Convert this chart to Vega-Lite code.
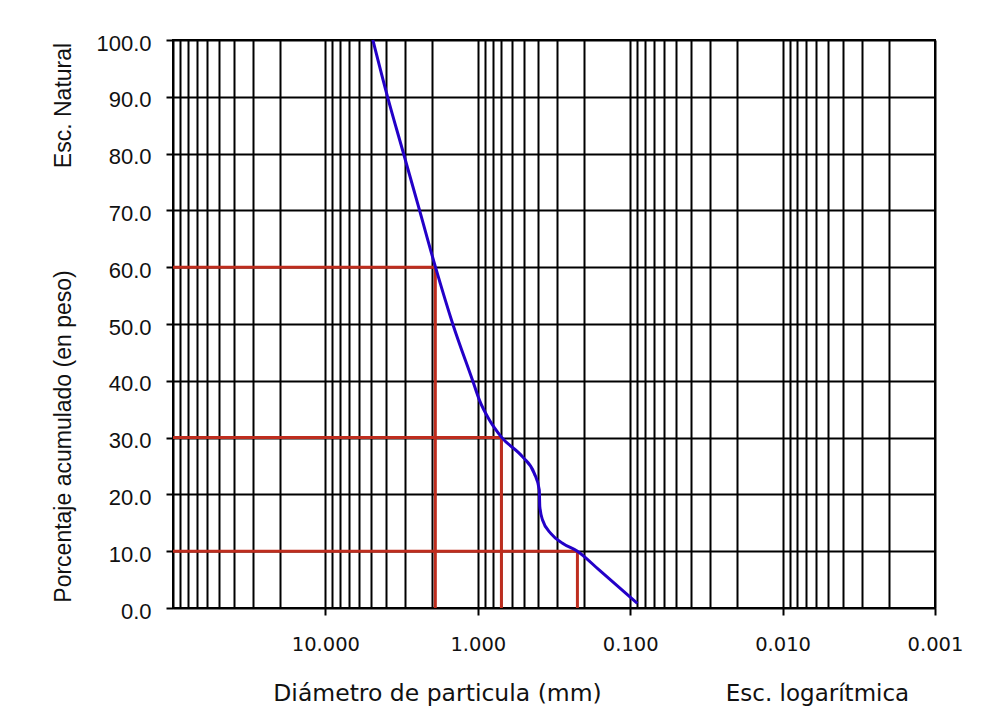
{
  "$schema": "https://vega.github.io/schema/vega-lite/v6.json",
  "width": 762,
  "height": 568,
  "autosize": "none",
  "padding": {"left": 173, "top": 40, "right": 60, "bottom": 109},
  "background": "white",
  "config": {"view": {"stroke": "#000", "strokeWidth": 2}},
  "datasets": {
    "curve": [
      {"D": 4.88, "P": 100}, {"D": 3.91, "P": 90}, {"D": 3.07, "P": 80}, {"D": 2.41, "P": 70},
      {"D": 1.895, "P": 60}, {"D": 1.46, "P": 50}, {"D": 1.08, "P": 40}, {"D": 0.976, "P": 36.6},
      {"D": 0.839, "P": 33.1}, {"D": 0.695, "P": 30}, {"D": 0.508, "P": 26.6}, {"D": 0.426, "P": 23.7},
      {"D": 0.395, "P": 20.8}, {"D": 0.392, "P": 17.9}, {"D": 0.376, "P": 15.5}, {"D": 0.331, "P": 13.1},
      {"D": 0.278, "P": 11.4}, {"D": 0.222, "P": 10}, {"D": 0.16, "P": 6.7}, {"D": 0.0897, "P": 0.8}
    ],
    "guides": [
      {"D": 1.9, "P": 60}, {"D": 0.70, "P": 30}, {"D": 0.222, "P": 10}
    ]
  },
  "layer": [
    {
      "data": {"name": "guides"},
      "layer": [
        {
          "mark": {"type": "rule", "color": "#be2d1e", "strokeWidth": 3},
          "encoding": {
            "x": {"field": "D", "type": "quantitative",
              "scale": {"type": "log", "domain": [0.001, 100], "reverse": true, "nice": false},
              "axis": {
                "values": [100, 90, 80, 70, 60, 50, 40, 30, 20, 10, 9, 8, 7, 6, 5, 4, 3, 2, 1, 0.9, 0.8, 0.7, 0.6, 0.5, 0.4, 0.3, 0.2, 0.1, 0.09, 0.08, 0.07, 0.06, 0.05, 0.04, 0.03, 0.02, 0.01, 0.009, 0.008, 0.007, 0.006, 0.005, 0.004, 0.003, 0.002, 0.001],
                "grid": true, "gridColor": "#000", "gridWidth": 2, "gridOpacity": 1,
                "domain": false,
                "tickColor": "#000", "tickWidth": 2, "tickSize": 7,
                "tickOpacity": {"condition": {"test": "datum.value==10||datum.value==1||datum.value==0.1||datum.value==0.01||datum.value==0.001", "value": 1}, "value": 0},
                "labelExpr": "(datum.value==10||datum.value==1||datum.value==0.1||datum.value==0.01||datum.value==0.001) ? format(datum.value, '.3f') : ''",
                "labelFont": "DejaVu Sans", "labelFontSize": 19.5, "labelColor": "#111",
                "labelPadding": 20, "labelOverlap": false, "labelFlush": false, "labelBound": false,
                "title": "Diámetro de particula (mm)", "titleFont": "DejaVu Sans", "titleFontSize": 23.5,
                "titleFontWeight": "normal", "titleColor": "#111",
                "titleX": 264, "titleY": 85, "titleAlign": "center", "titleBaseline": "middle"
              }
            },
            "x2": {"datum": 100},
            "y": {"field": "P", "type": "quantitative",
              "scale": {"domain": [0, 100], "nice": false},
              "axis": {
                "values": [0, 10, 20, 30, 40, 50, 60, 70, 80, 90, 100], "format": ".1f",
                "grid": true, "gridColor": "#000", "gridWidth": 2, "gridOpacity": 1,
                "domain": false, "tickColor": "#000", "tickWidth": 2, "tickSize": 7,
                "labelFont": "Liberation Sans", "labelFontSize": 22, "labelColor": "#111",
                "labelPadding": 15, "labelOffset": 3,
                "title": "Porcentaje acumulado (en peso)", "titleFont": "Liberation Sans", "titleFontSize": 23,
                "titleFontWeight": "normal", "titleColor": "#111",
                "titleX": -110, "titleY": 396, "titleAngle": 270, "titleAlign": "center", "titleBaseline": "middle"
              }
            }
          }
        },
        {
          "mark": {"type": "rule", "color": "#be2d1e", "strokeWidth": 3},
          "encoding": {
            "x": {"field": "D", "type": "quantitative"},
            "y": {"field": "P", "type": "quantitative"},
            "y2": {"datum": 0}
          }
        }
      ]
    },
    {
      "data": {"name": "curve"},
      "mark": {"type": "line", "color": "#2300c8", "strokeWidth": 3, "interpolate": "monotone"},
      "encoding": {
        "x": {"field": "D", "type": "quantitative",
          "scale": {"type": "log", "domain": [0.001, 100], "reverse": true, "nice": false},
          "axis": {
            "orient": "bottom", "grid": false, "domain": false, "ticks": false, "labels": false,
            "title": "Esc. logarítmica", "titleFont": "DejaVu Sans", "titleFontSize": 23,
            "titleFontWeight": "normal", "titleColor": "#111",
            "titleX": 644, "titleY": 85, "titleAlign": "center", "titleBaseline": "middle"
          }
        },
        "y": {"field": "P", "type": "quantitative",
          "scale": {"domain": [0, 100], "nice": false},
          "axis": {
            "orient": "left", "grid": false, "domain": false, "ticks": false, "labels": false,
            "title": "Esc. Natural", "titleFont": "Liberation Sans", "titleFontSize": 23,
            "titleFontWeight": "normal", "titleColor": "#111",
            "titleX": -110, "titleY": 65, "titleAngle": 270, "titleAlign": "center", "titleBaseline": "middle"
          }
        }
      }
    }
  ],
  "resolve": {"scale": {"x": "independent", "y": "independent"}}
}
